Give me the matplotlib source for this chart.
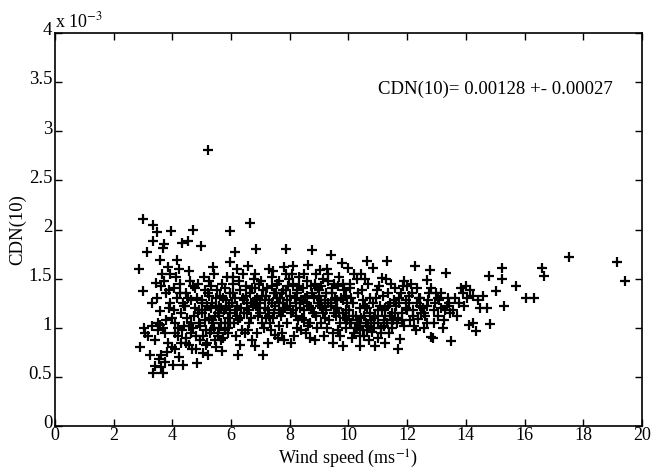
import matplotlib
matplotlib.use('Agg')
import matplotlib.pyplot as plt
import matplotlib.transforms as mtransforms

# Wind speed (m/s) and CDN(10) (x 1e-3), grouped by speed range
wind_a = [2.87, 2.90, 3.01, 3.01, 3.07, 3.12, 3.24, 3.29, 3.05, 3.18]
cdn_a = [1.60, 0.80, 2.11, 1.37, 0.95, 1.77, 0.72, 1.25, 1.00, 0.92]

wind_b = [3.35, 3.35, 3.41, 3.46, 3.35, 3.58, 3.58, 3.50, 3.44, 3.55,
          3.69, 3.69, 3.62, 3.52, 3.40, 3.48, 3.60, 3.30, 3.65, 3.58,
          3.69, 3.72, 3.78, 3.85, 3.90, 3.95, 3.75, 3.82, 3.88, 3.98, 3.70, 3.93]
cdn_b = [2.05, 1.88, 0.61, 1.97, 0.54, 1.69, 1.17, 0.98, 1.46, 0.68,
         0.54, 1.81, 1.42, 1.05, 0.88, 1.30, 0.60, 1.02, 1.55, 1.03,
         1.00, 1.48, 1.35, 1.62, 1.38, 1.98, 0.95, 0.75, 1.20, 1.10, 1.85, 1.55]

wind_c = [4.03, 4.05, 4.10, 4.15, 4.15, 4.20, 4.25, 4.30, 4.32, 4.37, 4.08, 4.22, 4.28, 4.35, 4.12, 4.40,
          4.45, 4.50, 4.54, 4.58, 4.62, 4.65, 4.69, 4.72, 4.78, 4.48, 4.56, 4.68, 4.75, 4.60, 4.80, 4.42]
cdn_c = [0.62, 1.40, 1.05, 1.69, 1.30, 0.92, 1.45, 1.15, 1.86, 0.62, 0.78, 1.60, 0.85, 1.25, 1.52, 1.02,
         1.35, 1.10, 1.88, 1.58, 0.95, 1.28, 2.00, 1.42, 1.20, 0.85, 1.02, 0.78, 1.12, 1.48, 0.92, 1.22]

wind_d = [4.83, 4.85, 4.90, 4.97, 5.00, 5.05, 5.10, 5.15, 5.18, 4.88, 4.94, 5.02, 5.08, 5.12, 5.20, 5.20, 4.92, 5.16,
          5.21,
          5.25, 5.28, 5.32, 5.35, 5.40, 5.42, 5.45, 5.50, 5.55, 5.58, 5.30, 5.38, 5.48, 5.52, 5.60, 5.26, 5.44, 5.56]
cdn_d = [0.64, 1.30, 1.05, 1.83, 1.15, 0.74, 1.38, 0.98, 1.22, 1.45, 0.88, 1.28, 1.52, 1.08, 0.72, 1.35, 1.18, 0.82,
         2.81,
         1.10, 0.95, 1.42, 1.25, 1.05, 1.55, 0.88, 1.30, 1.15, 1.00, 1.20, 1.62, 0.80, 1.38, 1.22, 1.48, 1.12, 0.92]

wind_e = [5.62, 5.65, 5.68, 5.70, 5.75, 5.78, 5.82, 5.85, 5.90, 5.95, 5.96, 5.96, 5.66, 5.72, 5.80, 5.88, 5.92, 5.98,
          6.02, 6.05, 6.10, 6.13, 6.15, 6.20, 6.21, 6.25, 6.30, 6.30, 6.35, 6.38, 6.08, 6.18, 6.28, 6.12, 6.24, 6.40]
cdn_e = [1.32, 1.05, 0.76, 1.45, 1.18, 0.98, 1.28, 1.52, 1.10, 1.35, 1.98, 1.67, 1.20, 0.90, 1.40, 1.00, 1.22, 1.15,
         1.25, 1.45, 1.05, 1.77, 1.30, 1.12, 1.60, 0.72, 0.82, 1.38, 1.20, 0.98, 1.52, 0.92, 1.48, 1.18, 1.08, 1.30]

wind_f = [6.45, 6.50, 6.55, 6.57, 6.60, 6.64, 6.65, 6.70, 6.75, 6.78, 6.48, 6.52, 6.62, 6.68, 6.72, 6.80, 6.42, 6.58,
          6.81, 6.85, 6.88, 6.92, 6.95, 7.00, 7.05, 7.08, 7.10, 7.15, 6.83, 6.90, 6.98, 7.02, 7.12, 7.18, 6.86, 7.20]
cdn_f = [1.15, 1.42, 1.25, 1.63, 1.05, 2.07, 1.35, 0.88, 1.22, 1.50, 0.95, 1.32, 1.18, 1.10, 1.40, 1.28, 1.55, 0.98,
         0.81, 1.80, 1.30, 1.12, 1.45, 1.25, 1.05, 0.72, 1.38, 1.20, 1.55, 0.95, 1.15, 1.48, 1.00, 1.32, 1.22, 1.10]

wind_g = [7.22, 7.25, 7.30, 7.35, 7.38, 7.42, 7.45, 7.50, 7.50, 7.55, 7.28, 7.32, 7.40, 7.48, 7.58, 7.60, 7.26, 7.44,
          7.62, 7.65, 7.70, 7.72, 7.75, 7.80, 7.85, 7.87, 7.90, 7.95, 7.68, 7.78, 7.82, 7.92, 7.98, 7.64, 7.76, 7.88]
cdn_g = [1.40, 1.18, 1.28, 0.98, 1.52, 1.10, 1.35, 0.93, 1.22, 1.45, 1.60, 1.05, 1.25, 1.15, 1.30, 0.90, 0.85, 1.58,
         1.25, 1.48, 1.12, 1.35, 0.95, 1.62, 1.20, 1.80, 1.05, 1.42, 1.30, 1.18, 0.88, 1.28, 1.50, 1.02, 1.38, 1.55]

wind_h = [8.02, 8.05, 8.10, 8.12, 8.15, 8.20, 8.25, 8.28, 8.30, 8.35, 8.38, 8.08, 8.18, 8.22, 8.32, 8.40, 8.04, 8.26,
          8.45, 8.48, 8.52, 8.55, 8.60, 8.63, 8.65, 8.70, 8.75, 8.75, 8.42, 8.50, 8.58, 8.68, 8.72, 8.80, 8.46, 8.62]
cdn_h = [1.32, 1.15, 1.45, 1.63, 0.92, 1.25, 1.38, 1.08, 1.52, 1.20, 0.98, 1.55, 1.30, 1.12, 1.42, 1.28, 0.85, 1.00,
         1.40, 1.18, 1.30, 0.95, 1.48, 1.64, 1.22, 1.05, 1.79, 1.35, 1.10, 1.55, 1.25, 0.90, 1.42, 1.15, 1.28, 1.02]

wind_i = [8.82, 8.85, 8.90, 8.95, 9.00, 9.03, 9.05, 9.10, 9.15, 9.18, 8.88, 8.92, 8.98, 9.08, 9.12, 9.20, 8.86, 9.02,
          9.22, 9.25, 9.30, 9.35, 9.39, 9.40, 9.45, 9.46, 9.50, 9.55, 9.28, 9.32, 9.42, 9.48, 9.52, 9.58, 9.26, 9.60]
cdn_i = [1.30, 1.45, 1.12, 1.25, 1.38, 1.59, 1.05, 1.20, 1.50, 0.92, 1.55, 1.00, 1.32, 1.42, 1.15, 1.28, 0.88, 1.22,
         1.35, 1.18, 1.48, 1.08, 1.74, 1.25, 1.40, 0.84, 1.15, 1.30, 1.00, 1.55, 1.22, 0.95, 1.45, 1.12, 1.60, 1.28]

wind_j = [9.62, 9.65, 9.70, 9.75, 9.77, 9.80, 9.80, 9.85, 9.90, 9.95, 9.99, 9.68, 9.72, 9.82, 9.88, 9.92, 9.64, 9.96,
          10.02, 10.05, 10.10, 10.15, 10.20, 10.25, 10.30, 10.35, 10.39, 10.08, 10.12, 10.18, 10.28, 10.32, 10.04, 10.22, 10.38, 10.40]
cdn_j = [1.20, 1.42, 1.05, 1.30, 1.66, 0.81, 1.15, 1.38, 1.00, 1.25, 1.61, 1.52, 0.92, 1.45, 1.10, 1.32, 0.98, 1.08,
         1.18, 1.40, 1.05, 1.25, 0.95, 1.12, 1.50, 1.02, 0.81, 1.30, 0.90, 1.55, 1.08, 1.35, 1.45, 1.00, 1.20, 0.92]

wind_k = [10.42, 10.45, 10.50, 10.55, 10.60, 10.62, 10.65, 10.70, 10.75, 10.48, 10.52, 10.58, 10.68, 10.72, 10.78, 10.44, 10.64, 10.80,
          10.85, 10.90, 10.92, 10.95, 11.00, 11.05, 11.10, 11.13, 11.15, 11.20, 10.82, 10.88, 10.98, 11.02, 11.08, 11.18]
cdn_k = [1.10, 1.38, 0.98, 1.22, 1.05, 1.68, 1.45, 0.88, 1.15, 1.28, 0.92, 1.50, 1.02, 1.30, 1.08, 1.55, 1.20, 0.96,
         1.61, 0.81, 1.12, 1.30, 1.05, 1.42, 0.95, 1.51, 1.18, 1.08, 1.25, 1.00, 1.38, 0.90, 1.22, 1.32]

wind_l = [11.24, 11.25, 11.30, 11.30, 11.35, 11.40, 11.45, 11.50, 11.55, 11.28, 11.38, 11.42, 11.48, 11.58, 11.22, 11.52,
          11.62, 11.65, 11.70, 11.75, 11.78, 11.82, 11.85, 11.90, 11.95, 12.00, 11.68, 11.88, 11.72, 11.98]
cdn_l = [0.85, 1.20, 1.68, 1.05, 1.35, 1.12, 1.45, 1.00, 1.28, 1.50, 0.95, 1.25, 1.15, 1.40, 1.02, 1.08,
         1.22, 1.05, 0.78, 0.89, 1.35, 1.15, 1.42, 1.02, 1.28, 1.42, 1.10, 1.48, 1.30, 1.18]

wind_m = [12.05, 12.10, 12.15, 12.20, 12.27, 12.30, 12.36, 12.40, 12.45, 12.12, 12.25, 12.35, 12.48,
          12.58, 12.66, 12.78, 12.83, 12.87, 12.55, 12.62, 12.70, 12.75, 12.90, 12.95, 12.68,
          13.05, 13.10, 13.21, 13.31, 13.49, 13.15, 13.25, 13.38, 13.45, 13.00, 13.35, 13.42]
cdn_m = [1.25, 1.08, 1.35, 1.18, 1.63, 0.98, 1.09, 1.30, 1.22, 1.45, 1.02, 1.40, 1.15,
         1.00, 1.49, 1.59, 0.91, 0.90, 1.20, 1.12, 1.28, 1.35, 1.18, 1.25, 1.05,
         1.12, 1.28, 1.00, 1.56, 0.87, 1.20, 1.08, 1.30, 1.15, 1.35, 1.22, 1.25]

wind_n = [13.55, 13.62, 13.70, 13.78, 13.85, 13.92, 14.00, 14.05, 14.11, 14.23, 14.33, 14.15, 14.25, 14.40, 14.48, 13.95,
          14.71, 14.79, 14.82, 15.02, 15.22, 15.24, 15.30, 15.71, 16.04, 16.33, 16.60, 16.67, 17.52, 19.14, 19.42, 14.60]
cdn_n = [1.18, 1.30, 1.12, 1.25, 1.40, 1.35, 1.42, 1.30, 1.03, 1.05, 0.97, 1.38, 1.32, 1.28, 1.20, 1.22,
         1.20, 1.53, 1.04, 1.37, 1.61, 1.50, 1.22, 1.42, 1.30, 1.30, 1.61, 1.53, 1.72, 1.67, 1.48, 1.32]

# extra points in the dense core of the cloud
wind_core = [3.80, 3.92, 4.05, 4.18, 4.26, 4.38, 4.52, 4.64, 4.76, 4.88, 5.00, 5.12, 5.24, 5.36, 5.48, 5.60, 5.72, 5.84, 5.96, 6.08,
             6.20, 6.32, 6.44, 6.56, 6.68, 6.80, 6.92, 7.04, 7.16, 7.28, 7.40, 7.52, 7.64, 7.76, 7.88, 8.00, 8.12, 8.24, 8.36, 8.48,
             8.60, 8.72, 8.84, 8.96, 9.08, 9.20, 9.32, 9.44, 9.56, 9.68, 9.80, 9.92, 10.04, 10.16, 10.28, 10.40, 10.52, 10.64, 10.76, 10.88,
             11.00, 11.12, 11.24, 11.36, 11.48, 11.60, 11.72, 11.84, 11.96, 12.08, 12.20, 12.32, 12.44, 12.56, 12.68, 12.80, 12.92, 13.04, 13.16, 13.28,
             3.62, 3.74, 3.86, 3.98, 4.10, 4.22, 4.34, 4.46, 4.58, 4.70, 4.82, 4.94, 5.06, 5.18, 5.30, 5.42, 5.54, 5.66, 5.78, 5.90]
cdn_core = [1.08, 1.25, 1.18, 1.00, 1.35, 1.22, 1.30, 1.05, 1.40, 1.15, 1.25, 1.18, 1.32, 1.08, 1.22, 1.12, 1.30, 1.20, 1.05, 1.35,
            1.22, 1.10, 1.28, 1.15, 1.25, 1.40, 1.20, 1.32, 1.28, 1.12, 1.42, 1.35, 1.18, 1.25, 1.38, 1.22, 1.18, 1.35, 1.25, 1.08,
            1.32, 1.20, 1.15, 1.40, 1.28, 1.10, 1.25, 1.35, 1.20, 1.15, 1.28, 1.18, 1.05, 1.12, 1.00, 1.05, 1.12, 0.98, 1.05, 1.10,
            1.18, 1.00, 1.12, 1.22, 1.05, 1.15, 1.25, 1.08, 1.20, 1.32, 1.12, 1.25, 1.30, 1.15, 1.22, 1.40, 1.05, 1.30, 1.35, 1.18,
            0.72, 0.65, 0.85, 0.80, 0.95, 0.70, 0.98, 0.90, 0.82, 1.00, 0.78, 1.02, 0.92, 0.85, 0.98, 1.00, 0.95, 0.88, 1.05, 0.95]

wind = (wind_a + wind_b + wind_c + wind_d + wind_e + wind_f + wind_g + wind_h + wind_i + wind_j
        + wind_k + wind_l + wind_m + wind_n + wind_core)
cdn = (cdn_a + cdn_b + cdn_c + cdn_d + cdn_e + cdn_f + cdn_g + cdn_h + cdn_i + cdn_j
       + cdn_k + cdn_l + cdn_m + cdn_n + cdn_core)

xticks = list(range(0, 21, 2))
yticks = [0, 0.5, 1, 1.5, 2, 2.5, 3, 3.5, 4]
ytick_labels = ['0', '0.5', '1', '1.5', '2', '2.5', '3', '3.5', '4']

plt.rcParams['font.family'] = ['Liberation Serif', 'DejaVu Serif']
plt.rcParams['mathtext.fontset'] = 'stix'

fig = plt.figure(figsize=(6.53, 4.68), dpi=100)
ax = fig.add_axes([0.0842, 0.0897, 0.8988, 0.8398])

ax.plot(wind, cdn, linestyle='none', marker='+', color='black', markersize=7.5, markeredgewidth=1.6)

ax.set_xlim(0, 20)
ax.set_ylim(0, 4)
ax.set_xticks(xticks)
ax.set_yticks(yticks)
ax.set_yticklabels(ytick_labels)
ax.tick_params(direction='in', top=True, right=True, length=5, width=1, labelsize=13.5, pad=2)
ax.tick_params(axis='x', labelsize=13, pad=1)
for s in ax.spines.values():
    s.set_linewidth(1.2)

# lift y tick labels a little so the corner "0" labels don't collide
lift = mtransforms.ScaledTranslation(0, 3 / 72, fig.dpi_scale_trans)
for lab in ax.get_yticklabels():
    lab.set_transform(lab.get_transform() + lift)

ax.set_xlabel('Wind speed (ms$^{-1}$)', fontsize=13)
ax.xaxis.set_label_coords(0.5, -0.054)
ax.set_ylabel('CDN(10)', fontsize=13.5, labelpad=2)
ax.text(0.0, 1.005, 'x 10$^{-3}$', transform=ax.transAxes, fontsize=13, ha='left', va='bottom')
ax.text(11.0, 3.43, 'CDN(10)= 0.00128 +- 0.00027', fontsize=13.5, ha='left', va='center')

fig.savefig('out.png', dpi=100)
